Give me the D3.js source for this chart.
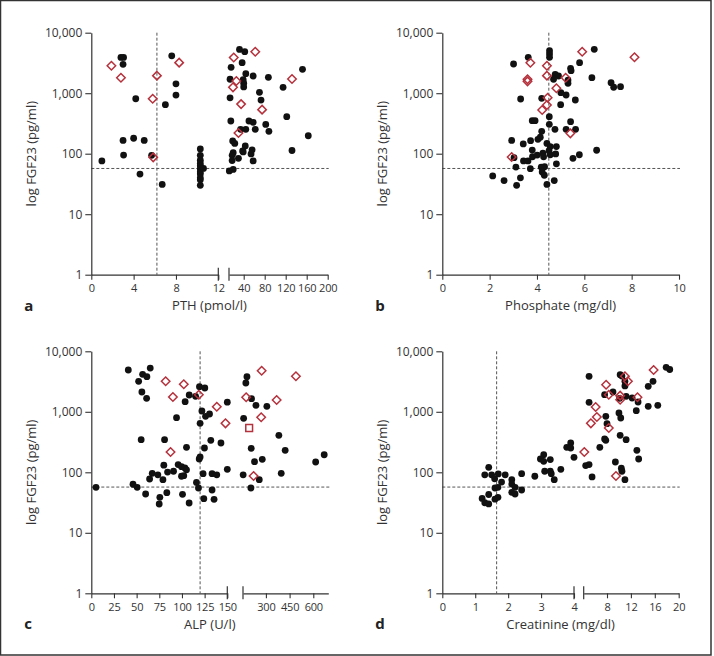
<!DOCTYPE html>
<html><head><meta charset="utf-8">
<script src="https://cdn.jsdelivr.net/npm/d3@7"></script>
<style>
html,body{margin:0;padding:0;background:#fff;}
svg{display:block;font-family:"Open Sans",sans-serif;}
</style></head>
<body><svg id="chart" width="714" height="656"></svg>
<script>
// ---------- DATA ----------
const yTickValues = [1, 10, 100, 1000, 10000];
const fgfCutoff = 57;

// Panel a: PTH (pmol/l)
const pthTicks1 = [0, 4, 8, 12];
const pthTicks2 = [40, 80, 120, 160, 200];
const pthCutoff = 6.2;
const pthCircX = [1.0,2.8,3.05,3.0,3.0,3.05,4.0,4.2,4.6,5.0,5.7,6.7,7.0,7.6,8.0,8.0,
  10.3,10.3,10.3,10.3,10.3,10.3,10.3,10.3,10.3,10.3,10.3,10.6,
  32,42,16,37,44,58,87,14,39,40,40,70,14,115,73,152,15.5,50,58,82,122,34,44,62,88,163,19,23,43,38,56,132,20,18,30,39,54,58,18,20,12.6];
const pthCircY = [76,3900,3900,3000,166,95,180,810,46,166,94,31,645,4150,1430,930,
  120,94,78,69,63,56,50,46,40,37,30,57,
  5300,4850,2680,3190,2100,1925,1830,1700,1670,1460,1270,1035,840,1250,770,2480,347,347,330,305,410,253,253,253,234,198,162,148,134,111,116,113,104,94,84,107,99,76,77,55,52];
const pthDiamX = [1.9,2.8,5.8,6.2,5.85,8.3,21,62,26,19.6,35,75,132,30];
const pthDiamY = [2850,1800,810,1950,87,3200,3900,4850,1590,1250,660,535,1720,220];

// Panel b: Phosphate (mg/dl)
const phosTicks = [0, 2, 4, 6, 8, 10];
const phosCutoff = 4.5;
const phosCircX = [4.53,4.53,4.53,3.63,3.01,5.42,5.44,5.80,6.42,4.77,4.91,4.70,5.31,5.31,6.32,7.13,7.24,7.53,5.01,5.23,5.62,3.31,4.20,5.0,3.80,3.92,4.52,4.52,4.76,5.42,5.23,5.63,4.20,2.93,3.42,3.73,4.04,4.14,4.42,4.56,4.82,3.80,4.25,4.51,6.52,3.03,3.43,3.62,3.81,4.01,4.28,4.56,4.79,5.52,5.79,3.11,3.72,4.18,4.32,4.82,4.22,4.31,2.13,2.61,3.30,3.14,4.42,4.73];
const phosCircY = [5040,4450,3920,3920,3040,2580,2355,3190,5320,2050,1925,1700,1650,1460,1805,1490,1253,1280,1020,934,772,802,824,645,351,351,409,306,253,338,253,253,234,166,145,164,173,187,148,131,131,115,102,112,114,86,76,76,89,95,89,96,99,84,96,60,56.5,60,61,68,50,44,43,36,40,30,31,36];
const phosDiamX = [3.72,4.42,4.42,3.6,3.6,5.21,4.82,5.91,8.12,4.45,4.42,4.22,5.41,2.93];
const phosDiamY = [3190,2850,1950,1700,1570,1800,1205,4850,3920,843,638,528,217,88];

// Panel c: ALP (U/l)
const alpTicks1 = [0, 25, 50, 75, 100, 125, 150];
const alpTicks2 = [300, 450, 600];
const alpCutoff = 120;
const alpCircX = [40.8,52.2,56.6,61.3,65,55.8,61,55,94,103.5,108,115,119.3,125.2,122,126,130.4,120,150,80.8,105,124.8,131.8,143,119,120,150,80,95.8,99.5,103.2,105,84.1,90.7,67.2,73.4,64.3,79,99.5,102,123.3,133.2,138.4,133.2,116,118.2,46,50.6,5.2,59.9,83.3,100.6,75.6,74.9,107.9,124.1,135.4,
  180,173,209,237,306,159,382,422,207,228,277,156,397,258,205,615,669];
const alpCircY = [4910,3190,4170,3800,5290,2125,1672,346,799,1469,1896,1805,2600,2475,1031,843,920,645,1440,346,259,252,338,305,166,179,112,131,134,124,118,110,101,104,96,91,77.5,75.5,86,88,95,95,91,51,68,55,63.4,56.5,56.5,43.8,46,43.3,38.6,29.9,31.1,36.6,35.8,
  3800,2990,1650,1280,1233,781,409,231,249,150,164,91,96,75.5,55,148,195];
const alpDiamX = [82,102,90,118.6,138.4,148,87.4,175,273,490,368,270,222];
const alpDiamY = [3190,2850,1757,1918,1214,645,217,1738,4780,3860,1567,811,87];
const alpSquareX = [194];
const alpSquareY = [540];

// Panel d: Creatinine (mg/dl)
const creTicks1 = [0, 1, 2, 3, 4];
const creTicks2 = [8, 12, 16, 20];
const creCutoff = 1.65;
const creCircX = [1.21,1.29,1.41,1.29,1.41,1.50,1.41,1.59,1.60,1.60,1.69,1.69,1.70,1.80,1.91,2.11,2.11,2.11,2.21,2.21,2.41,2.41,2.81,3.08,2.98,3.08,3.11,3.28,3.28,3.31,3.40,3.60,3.78,3.90,3.90,4.0,
  4.43,5.0,5.5,5.0,5.0,6.8,7.6,7.8,7.8,8.0,7.6,9.0,9.4,10.0,10.3,10.2,10.1,10.2,10.5,10.4,10.5,11.0,11.0,11.0,11.2,11.2,12.2,12.9,13.2,13.0,13.3,14.9,14.9,15.7,16.5,17.9,18.5];
const creCircY = [37,31.4,30,91,121,91,43,78,55,36,38.6,56.5,94,69,91,75.5,64,46.7,56.5,43.8,51,95,86,195,166,152,104,162,104,95,75.5,112,259,305,252,177,
  129,134,84,3860,1435,259,355,338,843,636,1918,2125,148,955,790,409,1672,4100,3900,117,104,75.5,3190,2680,1805,346,1690,1043,1452,231,166,2640,1233,3190,1280,5440,5000];
const creDiamX = [4.2,5.3,6.1,6.3,7.85,8.3,8.3,10.2,10.2,11.0,11.5,13.1,15.8,9.5];
const creDiamY = [217,645,1200,820,2805,1918,540,1850,1583,3860,3190,1738,4910,87];

// ---------- DRAWING ----------
const svg = d3.select("#chart");
const RED = "#b5313c";
const PH = 242;

svg.append("rect").attr("x",0.5).attr("y",0.5).attr("width",710.5).attr("height",654.5)
  .attr("fill","none").attr("stroke","#333").attr("stroke-width",1.5);

const diamondType = { draw(ctx, size){ const r = Math.sqrt(size)/2; ctx.moveTo(0,-r); ctx.lineTo(r,0); ctx.lineTo(0,r); ctx.lineTo(-r,0); ctx.closePath(); } };

function zip(xs, ys){ return xs.map((x,i)=>({x, y: ys[i]})); }

function panel(cfg){
  const g = svg.append("g").attr("transform", `translate(${cfg.left},${cfg.top})`);
  const y = d3.scaleLog().domain([1,10000]).range([PH,0]);
  const scales = cfg.segs.map(s => d3.scaleLinear().domain(s.domain).range(s.range));
  const xpos = v => (scales.length > 1 && v > cfg.segs[0].domain[1]) ? scales[1](v) : scales[0](v);
  const xEnd = cfg.segs[cfg.segs.length-1].range[1];

  // reference lines
  g.append("line").attr("x1",0).attr("x2",xEnd+1).attr("y1",y(fgfCutoff)).attr("y2",y(fgfCutoff))
    .attr("stroke","#555").attr("stroke-width",1).attr("stroke-dasharray","3,2");
  g.append("line").attr("x1",xpos(cfg.refX)).attr("x2",xpos(cfg.refX)).attr("y1",0).attr("y2",PH)
    .attr("stroke","#555").attr("stroke-width",1).attr("stroke-dasharray","3,2");

  // y axis
  const ya = g.append("g").attr("class","yax").call(d3.axisLeft(y).tickValues(yTickValues).tickFormat(d3.format(",")).tickSize(6).tickPadding(3).tickSizeOuter(0));
  ya.selectAll(".tick text").attr("font-size",12);
  // x axis segments
  cfg.segs.forEach((s,i) => {
    const xa = g.append("g").attr("transform",`translate(0,${PH})`)
      .call(d3.axisBottom(scales[i]).tickValues(s.ticks).tickFormat(d3.format("d")).tickSize(5).tickPadding(5).tickSizeOuter(0));
    xa.selectAll(".tick text").attr("font-size",11).attr("letter-spacing","-0.2");
  });
  g.selectAll(".domain").attr("stroke","#333").attr("stroke-width",1.2);
  g.selectAll(".tick line").attr("stroke","#333").attr("stroke-width",1.1);
  g.selectAll(".tick text").attr("font-family","'Open Sans', sans-serif").attr("fill","#333");
  // break bars
  if (cfg.segs.length > 1){
    [cfg.segs[0].range[1], cfg.segs[1].range[0]].forEach(bx => {
      g.append("line").attr("x1",bx).attr("x2",bx).attr("y1",PH-7).attr("y2",PH+6)
        .attr("stroke","#333").attr("stroke-width",1.2);
    });
  }

  // points
  g.append("g").selectAll("circle").data(zip(cfg.cx, cfg.cy)).join("circle")
    .attr("cx", d => xpos(d.x)).attr("cy", d => y(d.y)).attr("r", 3.4).attr("fill","#111");
  g.append("g").selectAll("path").data(zip(cfg.dx, cfg.dy)).join("path")
    .attr("transform", d => `translate(${xpos(d.x)},${y(d.y)})`)
    .attr("d", d3.symbol().type(diamondType).size(72))
    .attr("fill","none").attr("stroke",RED).attr("stroke-width",1.5);
  if (cfg.sx){
    g.append("g").selectAll("path").data(zip(cfg.sx, cfg.sy)).join("path")
      .attr("transform", d => `translate(${xpos(d.x)},${y(d.y)})`)
      .attr("d", d3.symbol().type(d3.symbolSquare).size(46))
      .attr("fill","none").attr("stroke",RED).attr("stroke-width",1.5);
  }

  // titles
  g.append("text").attr("x", xEnd/2).attr("y", PH+35.5).attr("text-anchor","middle")
    .attr("font-size",13).attr("fill","#333").text(cfg.xTitle);
  g.append("text").attr("transform",`translate(-60,${PH/2}) rotate(-90)`).attr("text-anchor","middle")
    .attr("dy","0.35em").attr("font-size",13).attr("fill","#333").text("log FGF23 (pg/ml)");
  g.append("text").attr("x",-67).attr("y",PH+36).attr("font-size",15).attr("font-weight","bold")
    .attr("fill","#222").text(cfg.letter);
}

panel({left:91.3, top:32.7, letter:"a", xTitle:"PTH (pmol/l)", refX:pthCutoff,
  segs:[{domain:[0,12], range:[0,127], ticks:pthTicks1},{domain:[12,200], range:[137.7,236.4], ticks:pthTicks2}],
  cx:pthCircX, cy:pthCircY, dx:pthDiamX, dy:pthDiamY});
panel({left:442.3, top:32.7, letter:"b", xTitle:"Phosphate (mg/dl)", refX:phosCutoff,
  segs:[{domain:[0,10], range:[0,236.7], ticks:phosTicks}],
  cx:phosCircX, cy:phosCircY, dx:phosDiamX, dy:phosDiamY});
panel({left:91.3, top:351.3, letter:"c", xTitle:"ALP (U/l)", refX:alpCutoff,
  segs:[{domain:[0,150], range:[0,136], ticks:alpTicks1},{domain:[155,695], range:[151.7,237], ticks:alpTicks2}],
  cx:alpCircX, cy:alpCircY, dx:alpDiamX, dy:alpDiamY, sx:alpSquareX, sy:alpSquareY});
panel({left:442.3, top:351.3, letter:"d", xTitle:"Creatinine (mg/dl)", refX:creCutoff,
  segs:[{domain:[0,4], range:[0,131.7], ticks:creTicks1},{domain:[4.1,20], range:[141.4,236.4], ticks:creTicks2}],
  cx:creCircX, cy:creCircY, dx:creDiamX, dy:creDiamY});
</script>
</body></html>
